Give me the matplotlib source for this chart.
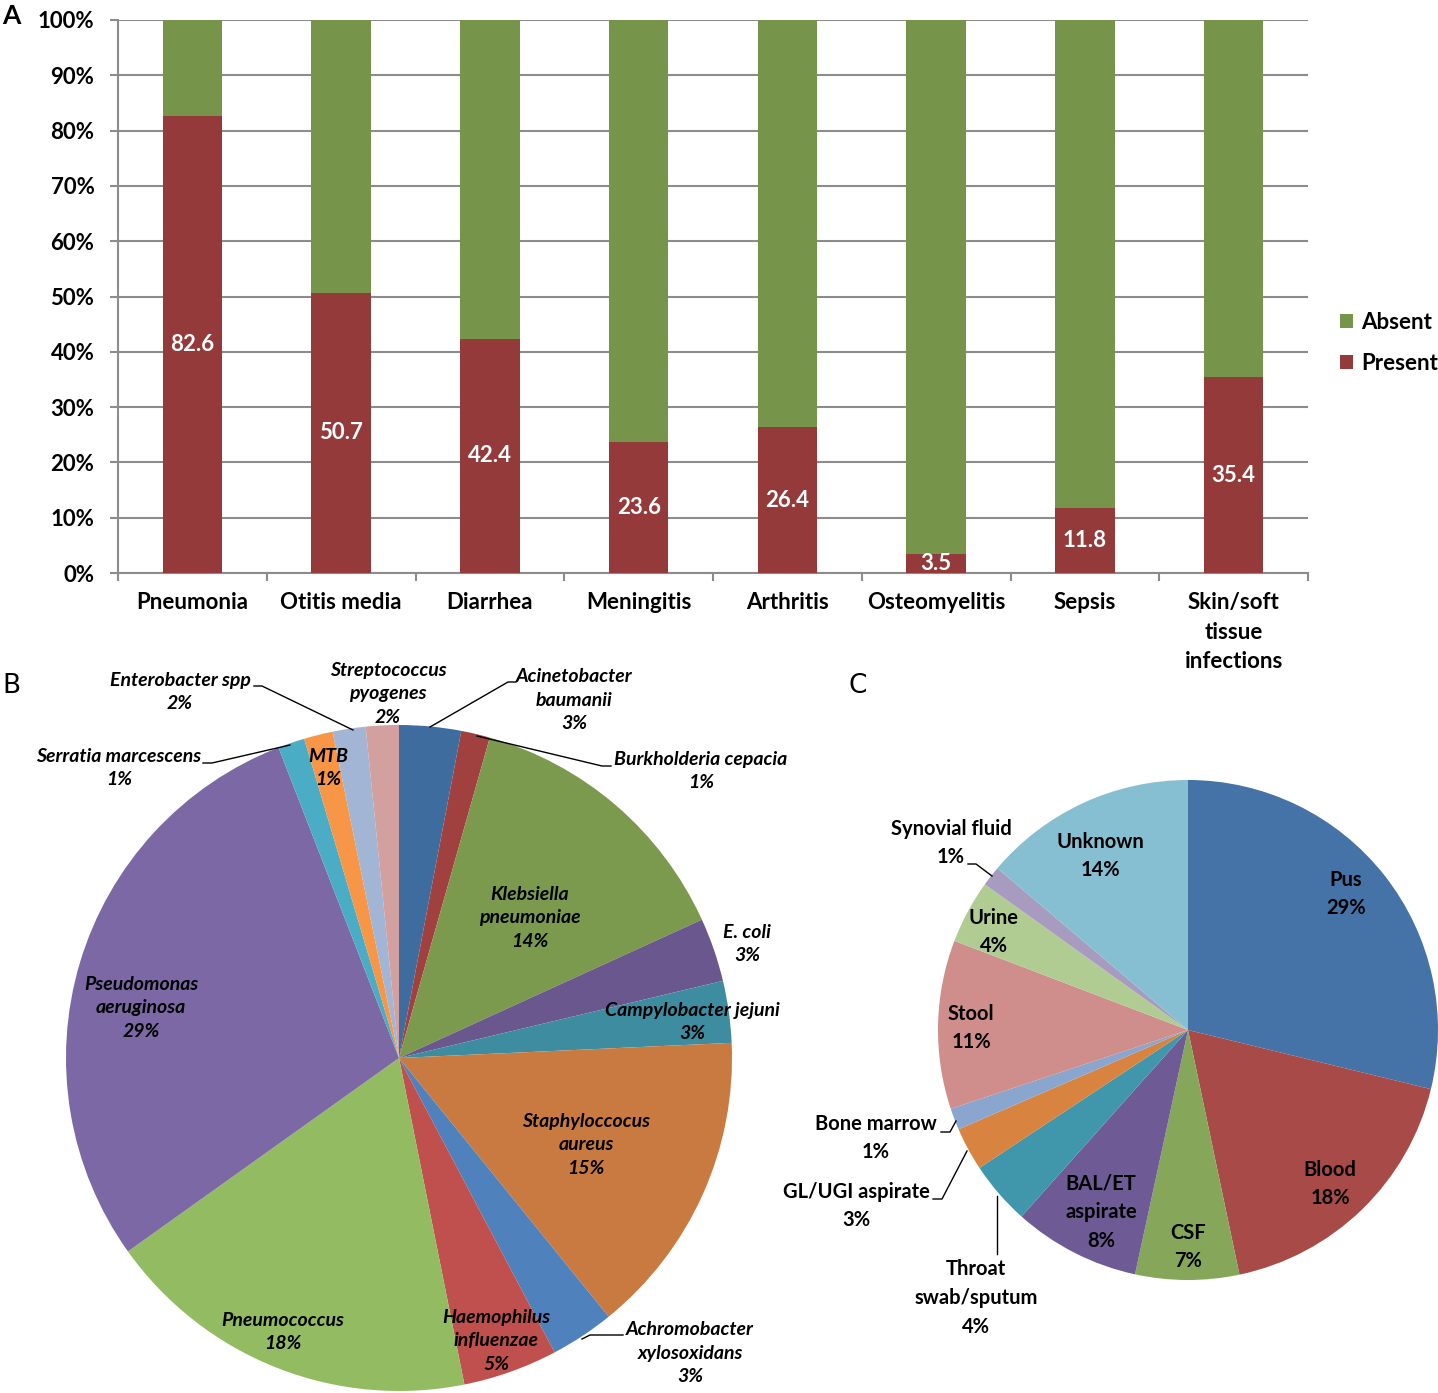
# Panel figure: bacteraemia complications (A) and organism / specimen breakdown (B, C)

import matplotlib.pyplot as plt
from matplotlib.ticker import FixedLocator, PercentFormatter

plt.rcParams['font.family'] = ['Lato', 'DejaVu Sans']
plt.rcParams['font.weight'] = 'bold'

W, H = 1438, 1393

# Panel A data
infections = ['Pneumonia', 'Otitis media', 'Diarrhea', 'Meningitis', 'Arthritis',
              'Osteomyelitis', 'Sepsis', 'Skin/soft\ntissue\ninfections']
present = [82.6, 50.7, 42.4, 23.6, 26.4, 3.5, 11.8, 35.4]
absent = [100 - v for v in present]

# Panel B data (organisms, clockwise from 12 o'clock)
organisms = ['Acinetobacter\nbaumanii', 'Burkholderia cepacia', 'Klebsiella\npneumoniae',
             'E. coli', 'Campylobacter jejuni', 'Staphyloccocus\naureus',
             'Achromobacter\nxylosoxidans', 'Haemophilus\ninfluenzae', 'Pneumococcus',
             'Pseudomonas\naeruginosa', 'Serratia marcescens', 'MTB', 'Enterobacter spp',
             'Streptococcus\npyogenes']
organism_share = [3.0, 1.4, 13.8, 3.1, 3.0, 14.9, 3.1, 4.6, 18.3, 29.0, 1.3, 1.4, 1.6, 1.6]
organism_colors = ['#3F6C9F', '#A0413F', '#7B9A4E', '#69578E', '#3D8CA0', '#C97A40',
                   '#4F81BD', '#C0504D', '#93BB62', '#7B68A5', '#4BACC6', '#F79646',
                   '#A3B5D4', '#D3A0A0']

# Panel C data (specimens, clockwise from 12 o'clock)
specimens = ['Pus', 'Blood', 'CSF', 'BAL/ET\naspirate', 'Throat\nswab/sputum',
             'GL/UGI aspirate', 'Bone marrow', 'Stool', 'Urine', 'Synovial fluid', 'Unknown']
specimen_share = [28.8, 17.9, 6.7, 8.2, 4.1, 2.8, 1.4, 10.9, 4.1, 1.3, 13.8]
specimen_colors = ['#4572A7', '#A84A48', '#86A75A', '#6E5A94', '#4096AB', '#D8833F',
                   '#8AA6CE', '#CF8D8C', '#B1CC92', '#A79BC0', '#86BFD1']


def px_axes(left, top, right, bottom):
    return [left / W, 1 - bottom / H, (right - left) / W, (bottom - top) / H]


fig = plt.figure(figsize=(W / 100, H / 100), dpi=100)

# ---------------- A: stacked bars ----------------
ax = fig.add_axes(px_axes(118, 20, 1308, 573))
x = range(len(infections))
ax.bar(x, present, width=0.4, color='#943A3A', label='Present', zorder=3)
ax.bar(x, absent, width=0.4, bottom=present, color='#76944A', label='Absent', zorder=3)
for i, v in enumerate(present):
    ax.text(i, v / 2, f'{v}', ha='center', va='center', color='white', fontsize=16,
            fontweight='bold', zorder=4)

ax.set_xlim(-0.5, len(infections) - 0.5)
ax.set_ylim(0, 100)
ax.yaxis.set_major_locator(FixedLocator(range(0, 101, 10)))
ax.yaxis.set_major_formatter(PercentFormatter(decimals=0))
ax.set_xticks(list(x))
ax.set_xticklabels(infections)
ax.xaxis.set_minor_locator(FixedLocator([i - 0.5 for i in range(len(infections) + 1)]))
ax.tick_params(axis='x', which='major', length=0, pad=14, labelsize=16)
ax.tick_params(axis='x', which='minor', length=6, width=1.5, color='#8c8c8c')
ax.tick_params(axis='y', length=6, width=1.5, color='#8c8c8c', pad=11, labelsize=16)
for lbl in ax.get_xticklabels():
    lbl.set_linespacing(1.5)
ax.grid(axis='y', color='#8c8c8c', linewidth=1.5, zorder=0)
for side in ['top', 'right']:
    ax.spines[side].set_visible(False)
for side in ['left', 'bottom']:
    ax.spines[side].set_color('#8c8c8c')
    ax.spines[side].set_linewidth(1.5)

handles, labels = ax.get_legend_handles_labels()
fig.legend(handles[::-1], labels[::-1], loc='upper left', bbox_to_anchor=(1340 / W, 1 - 312 / H),
           frameon=False, fontsize=16, handlelength=0.6, handleheight=0.6,
           handletextpad=0.35, labelspacing=0.9, borderpad=0, borderaxespad=0)


def draw_pie(cx, cy, r, values, colors):
    pax = fig.add_axes(px_axes(cx - r, cy - r, cx + r, cy + r))
    pax.pie(values, colors=colors, startangle=90, counterclock=False,
            wedgeprops=dict(linewidth=0))
    pax.set_xlim(-1, 1)
    pax.set_ylim(-1, 1)
    pax.set_axis_off()
    return pax


def to_pie(cx, cy, r, pts):
    return [((px - cx) / r, (cy - py) / r) for px, py in pts]


# ---------------- B: organisms ----------------
bcx, bcy, br = 399, 1058, 333
bax = draw_pie(bcx, bcy, br, organism_share, organism_colors)
b_label_px = [(574, 700), (701, 771), (530, 918), (747, 944), (692, 1022), (586, 1145),
              (690, 1353), (496, 1341), (283, 1332), (141, 1008), (119, 768), (328, 768),
              (180, 692), (388, 694)]
b_total = sum(organism_share)
for name, v, (lx, ly) in zip(organisms, organism_share, to_pie(bcx, bcy, br, b_label_px)):
    bax.text(lx, ly, f'{name}\n{v / b_total * 100:.0f}%', ha='center', va='center',
             fontsize=14, fontstyle='italic', fontweight='bold', linespacing=1.45,
             clip_on=False)
b_leaders = [
    [(430, 727), (508, 682), (516, 682)],
    [(477, 736), (602, 766), (611, 766)],
    [(582, 1339), (590, 1335), (623, 1335)],
    [(203, 763), (212, 763), (290, 745)],
    [(254, 686), (262, 686), (353, 730)],
]
for pts in b_leaders:
    xs, ys = zip(*to_pie(bcx, bcy, br, pts))
    bax.plot(xs, ys, color='black', linewidth=1, clip_on=False)

# ---------------- C: specimens ----------------
ccx, ccy, cr = 1188, 1030, 250
cax = draw_pie(ccx, ccy, cr, specimen_share, specimen_colors)
c_label_px = [(1346, 894), (1330, 1184), (1188, 1247), (1101, 1212), (976, 1298),
              (856, 1206), (876, 1138), (971, 1028), (994, 932), (951, 843), (1100, 856)]
c_total = sum(specimen_share)
for name, v, (lx, ly) in zip(specimens, specimen_share, to_pie(ccx, ccy, cr, c_label_px)):
    cax.text(lx, ly, f'{name}\n{v / c_total * 100:.0f}%', ha='center', va='center',
             fontsize=14.5, fontweight='bold', linespacing=1.54, clip_on=False)
c_leaders = [
    [(968, 864), (976, 864), (992, 876)],
    [(941, 1132), (950, 1132), (956, 1121)],
    [(933, 1199), (942, 1199), (967, 1151)],
    [(997, 1196), (997, 1254)],
]
for pts in c_leaders:
    xs, ys = zip(*to_pie(ccx, ccy, cr, pts))
    cax.plot(xs, ys, color='black', linewidth=1, clip_on=False)

# panel letters
fig.text(2 / W, 1 - 16 / H, 'A', fontsize=19, fontweight='bold', va='center')
fig.text(2 / W, 1 - 686 / H, 'B', fontsize=19, fontweight='normal', family='DejaVu Sans',
         va='center')
fig.text(848 / W, 1 - 686 / H, 'C', fontsize=19, fontweight='normal', family='DejaVu Sans',
         va='center')

fig.savefig('out.png', dpi=100)
